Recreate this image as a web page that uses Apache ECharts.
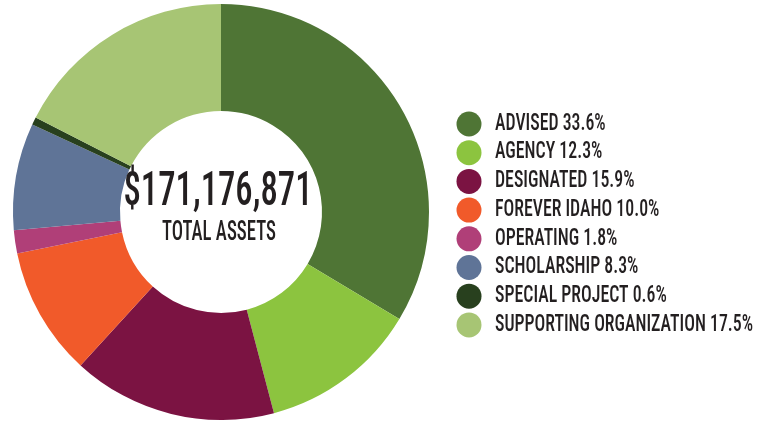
<!DOCTYPE html>
<html>
<head>
<meta charset="utf-8">
<script src="https://cdn.jsdelivr.net/npm/echarts@6/dist/echarts.min.js"></script>
<style>
  html, body { margin: 0; padding: 0; background: #fff; }
  #assets { width: 771px; height: 423px; }
</style>
</head>
<body>
<div id="assets"></div>
<script>
const categories = ['ADVISED', 'AGENCY', 'DESIGNATED', 'FOREVER IDAHO', 'OPERATING', 'SCHOLARSHIP', 'SPECIAL PROJECT', 'SUPPORTING ORGANIZATION'];
const shares = [33.6, 12.3, 15.9, 10.0, 1.8, 8.3, 0.6, 17.5];
const colors = ['#4f7535', '#8cc43f', '#7b1342', '#f15a2a', '#b03f78', '#5f7497', '#28401e', '#a7c574'];
const totalLabel = '$171,176,871';
const subLabel = 'TOTAL ASSETS';

const myChart = echarts.init(document.getElementById('assets'));
const family = '"Roboto Condensed", "Liberation Sans", sans-serif';
const ink = '#231f20';

// the original uses a very narrow face, so the text is squeezed to its width
function textWidth(font, text) {
  const ctx = document.createElement('canvas').getContext('2d');
  ctx.font = font;
  return ctx.measureText(text).width;
}
const bigFont = '500 49px ' + family;
const subFont = '500 27px ' + family;
const keyFont = '500 23px ' + family;

const keyLabels = categories.map(function (name, i) {
  return name + ' ' + shares[i].toFixed(1) + '%';
});
// one squeeze for the whole key, taken from its longest line
const keyScale = 258 / textWidth(keyFont, keyLabels[keyLabels.length - 1]);

const pieData = categories.map(function (name, i) {
  return { name: name, value: shares[i], itemStyle: { color: colors[i] } };
});

const keyItems = [];
categories.forEach(function (name, i) {
  const cy = 124 + i * 28.7;
  keyItems.push({
    type: 'circle',
    z: 100,
    shape: { cx: 469, cy: cy, r: 12.5 },
    style: { fill: colors[i] }
  });
  keyItems.push({
    type: 'text',
    z: 100,
    x: 495,
    y: cy,
    scaleX: keyScale,
    style: {
      text: keyLabels[i],
      font: keyFont,
      fill: ink,
      align: 'left',
      verticalAlign: 'middle'
    }
  });
});

const option = {
  animation: false,
  graphic: [
    {
      type: 'text',
      z: 100,
      x: 218,
      y: 193,
      scaleX: 189 / textWidth(bigFont, totalLabel),
      style: {
        text: totalLabel,
        font: bigFont,
        fill: ink,
        align: 'center',
        verticalAlign: 'middle'
      }
    },
    {
      type: 'text',
      z: 100,
      x: 219,
      y: 233,
      scaleX: 114 / textWidth(subFont, subLabel),
      style: {
        text: subLabel,
        font: subFont,
        fill: ink,
        align: 'center',
        verticalAlign: 'middle'
      }
    }
  ].concat(keyItems),
  series: [{
    type: 'pie',
    center: [221, 212],
    radius: [101, 208],
    startAngle: 90,
    clockwise: true,
    label: { show: false },
    labelLine: { show: false },
    emphasis: { disabled: true },
    itemStyle: { borderWidth: 0 },
    data: pieData
  }]
};
myChart.setOption(option);
</script>
</body>
</html>
